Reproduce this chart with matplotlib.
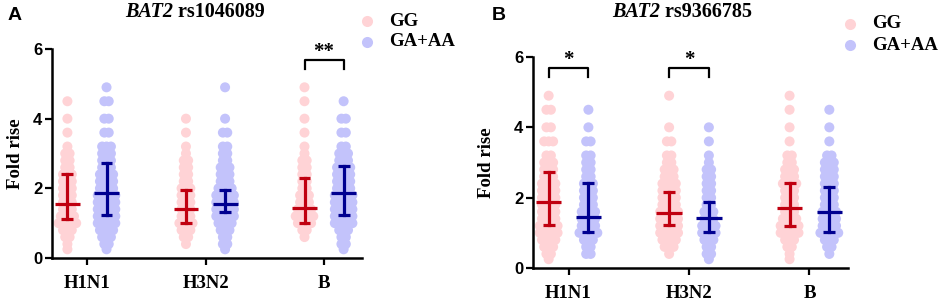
import matplotlib
matplotlib.use("Agg")
import matplotlib.pyplot as plt
from matplotlib.lines import Line2D
import numpy as np

# ---------------- data ----------------
categories = ["H1N1", "H3N2", "B"]
groups = ["GG", "GA+AA"]
levels = [4.9, 4.5, 4.0, 3.6, 3.2, 3.0, 2.8, 2.6, 2.4, 2.2, 2.0, 1.8, 1.6, 1.4, 1.2, 1.0, 0.8, 0.6, 0.4, 0.25]

# counts of points at each level (panel A: rs1046089)
a_h1n1_gg = [0, 1, 1, 1, 1, 2, 2, 2, 3, 3, 3, 3, 3, 3, 4, 5, 3, 2, 1, 1]
a_h1n1_ga = [1, 2, 2, 2, 3, 3, 3, 3, 4, 4, 4, 5, 5, 5, 5, 5, 4, 3, 2, 1]
a_h3n2_gg = [0, 0, 1, 1, 1, 1, 2, 2, 2, 2, 3, 3, 3, 3, 3, 4, 3, 2, 1, 0]
a_h3n2_ga = [1, 0, 1, 2, 2, 2, 2, 3, 3, 3, 4, 5, 5, 5, 5, 4, 3, 2, 2, 1]
a_b_gg = [1, 1, 1, 1, 1, 1, 2, 2, 2, 2, 2, 3, 3, 4, 5, 4, 2, 1, 0, 0]
a_b_ga = [0, 1, 2, 2, 2, 3, 3, 4, 4, 4, 4, 5, 5, 5, 5, 5, 3, 2, 2, 1]

# panel B: rs9366785
b_h1n1_gg = [1, 2, 2, 3, 2, 3, 3, 3, 4, 4, 4, 4, 4, 4, 5, 5, 4, 3, 2, 1]
b_h1n1_ga = [0, 1, 1, 2, 2, 2, 2, 2, 3, 3, 3, 3, 4, 4, 4, 5, 3, 2, 2, 0]
b_h3n2_gg = [1, 0, 1, 2, 2, 2, 3, 3, 4, 4, 4, 4, 5, 5, 5, 5, 4, 3, 1, 0]
b_h3n2_ga = [0, 0, 1, 1, 1, 1, 2, 2, 2, 2, 2, 2, 3, 3, 4, 4, 3, 2, 2, 1]
b_b_gg = [1, 1, 1, 1, 2, 2, 3, 3, 4, 3, 3, 3, 3, 4, 5, 5, 3, 2, 1, 1]
b_b_ga = [0, 1, 1, 1, 2, 3, 3, 3, 3, 3, 3, 3, 4, 4, 4, 5, 3, 2, 1, 0]

# median and interquartile range
a_gg_median = [1.56, 1.40, 1.43]
a_gg_q1 = [1.12, 1.00, 1.00]
a_gg_q3 = [2.41, 1.94, 2.30]
a_ga_median = [1.86, 1.56, 1.86]
a_ga_q1 = [1.24, 1.31, 1.24]
a_ga_q3 = [2.72, 1.94, 2.64]

b_gg_median = [1.87, 1.57, 1.70]
b_gg_q1 = [1.23, 1.23, 1.19]
b_gg_q3 = [2.73, 2.16, 2.41]
b_ga_median = [1.46, 1.41, 1.60]
b_ga_q1 = [1.01, 1.01, 1.01]
b_ga_q3 = [2.41, 1.89, 2.29]

a_sig = {2: "**"}
b_sig = {0: "*", 1: "*"}

# ---------------- style ----------------
dot_colors = ["#FFD3D6", "#C3C3FB"]
line_colors = ["#C00010", "#000090"]
serif = ["Liberation Serif", "DejaVu Serif"]
sans = ["Liberation Sans", "DejaVu Sans"]

fig = plt.figure(figsize=(9.41, 3.02), dpi=100)


def panel(rect, counts, med, q1, q3, sig, title_split, title_y, label, label_xy, ylab_x, legend_xy):
    ax = fig.add_axes(rect)
    offs = [-0.165, 0.165]
    sp = 0.037
    for ci in range(3):
        for gi in range(2):
            cx = ci + 1 + offs[gi]
            xs, ys = [], []
            for lv, n in zip(levels, counts[ci][gi]):
                for k in range(n):
                    xs.append(cx + (k - (n - 1) / 2) * sp)
                    ys.append(lv)
            ax.scatter(xs, ys, s=52, color=dot_colors[gi], edgecolors="none", zorder=2, clip_on=False)
            m = med[gi][ci]
            lo = q1[gi][ci]
            hi = q3[gi][ci]
            c = line_colors[gi]
            ax.plot([cx - 0.105, cx + 0.105], [m, m], color=c, lw=2.3, zorder=4, solid_capstyle="butt")
            ax.plot([cx, cx], [lo, hi], color=c, lw=2.3, zorder=4)
            for yv in (lo, hi):
                ax.plot([cx - 0.05, cx + 0.05], [yv, yv], color=c, lw=2.3, zorder=4, solid_capstyle="butt")
    for ci, s in sig.items():
        x0 = ci + 1 + offs[0]
        x1 = ci + 1 + offs[1]
        ax.plot([x0, x0, x1, x1], [5.43, 5.69, 5.69, 5.43], color="black", lw=1.6, clip_on=False, zorder=5)
        ax.text((x0 + x1) / 2, 5.62, s, ha="center", va="bottom", fontsize=15, fontweight="bold",
                family=serif, clip_on=False)
    ax.set_xlim(0.705, 3.32)
    ax.set_ylim(0, 6)
    ax.set_yticks([0, 2, 4, 6])
    ax.set_xticks([1, 2, 3])
    ax.set_xticklabels(categories, family=serif, fontweight="bold", fontsize=13.5)
    for t in ax.get_yticklabels():
        t.set_family(sans)
        t.set_fontweight("bold")
        t.set_fontsize(12)
    ax.tick_params(axis="both", width=1.6, length=5, direction="out", colors="black")
    ax.tick_params(axis="x", pad=7)
    ax.tick_params(axis="y", pad=2)
    for s in ["top", "right"]:
        ax.spines[s].set_visible(False)
    for s in ["left", "bottom"]:
        ax.spines[s].set_linewidth(1.8)
    ax.set_facecolor("none")
    # y label
    fig.text(ylab_x, rect[1] + rect[3] / 2, "Fold rise", rotation=90, ha="center", va="center",
             family=serif, fontweight="bold", fontsize=13.5)
    # title
    sx, tx = title_split
    fig.text(sx / 941, 1 - title_y / 302, "BAT2", ha="right", va="center", family=serif,
             fontweight="bold", fontstyle="italic", fontsize=14.5)
    fig.text(sx / 941, 1 - title_y / 302, tx, ha="left", va="center", family=serif,
             fontweight="bold", fontsize=14.5)
    # panel label
    fig.text(label_xy[0] / 941, 1 - label_xy[1] / 302, label, ha="left", va="center", family=sans,
             fontweight="bold", fontsize=14)
    # legend
    lx, ly = legend_xy
    for gi, g in enumerate(groups):
        yy = 1 - (ly + gi * 21) / 302
        fig.add_artist(Line2D([lx / 941], [yy], marker="o", markersize=8, color=dot_colors[gi],
                              markeredgecolor="none", linestyle="none", transform=fig.transFigure))
        fig.text((lx + 22) / 941, yy, g, ha="left", va="center", family=serif, fontweight="bold",
                 fontsize=13.5)
    return ax


counts_a = [[a_h1n1_gg, a_h1n1_ga], [a_h3n2_gg, a_h3n2_ga], [a_b_gg, a_b_ga]]
counts_b = [[b_h1n1_gg, b_h1n1_ga], [b_h3n2_gg, b_h3n2_ga], [b_b_gg, b_b_ga]]

panel([52 / 941, 1 - 258 / 302, 310 / 941, 209 / 302], counts_a,
      [a_gg_median, a_ga_median], [a_gg_q1, a_ga_q1], [a_gg_q3, a_ga_q3], a_sig,
      (173, " rs1046089"), 12, "A", (8, 15), 15 / 941, (367, 21))

panel([533 / 941, 1 - 268 / 302, 315 / 941, 211 / 302], counts_b,
      [b_gg_median, b_ga_median], [b_gg_q1, b_ga_q1], [b_gg_q3, b_ga_q3], b_sig,
      (660, " rs9366785"), 12, "B", (492, 15), 486 / 941, (850, 24))

fig.savefig("out.png", dpi=100)
